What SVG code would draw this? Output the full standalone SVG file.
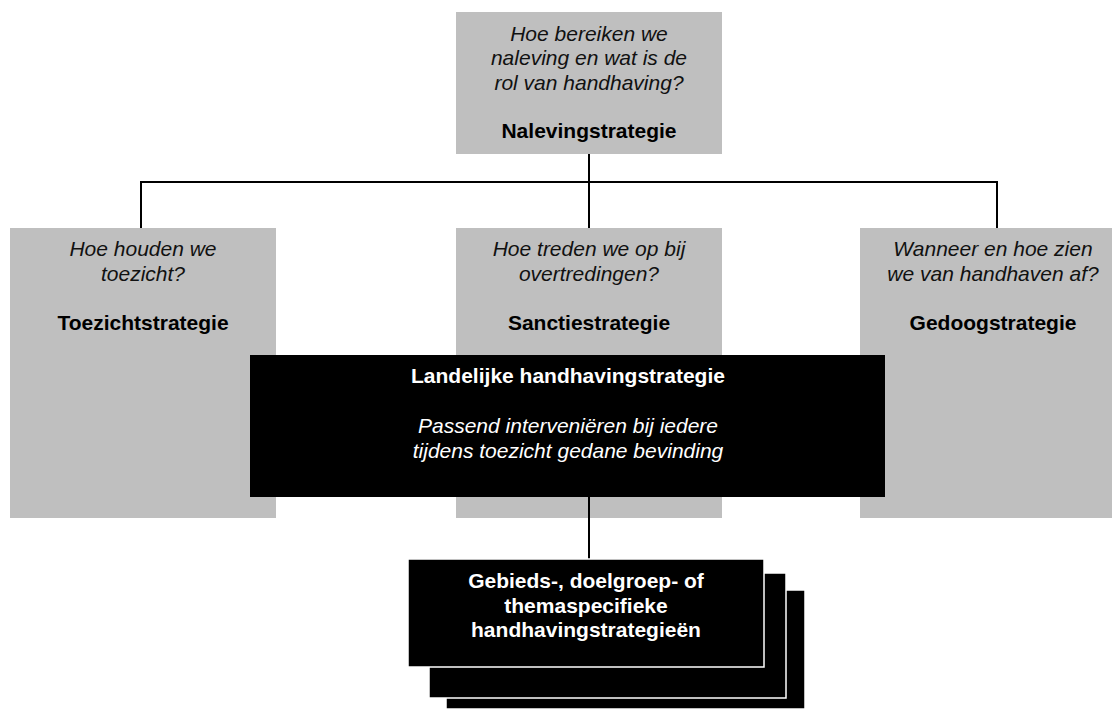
<svg xmlns="http://www.w3.org/2000/svg" width="1112" height="714" viewBox="0 0 1112 714">
<style>
.g{fill:#bfbfbf}
.b{fill:#000}
.s{fill:#000;stroke:#fff;stroke-width:1.5}
text{font-family:"Liberation Sans",Arial,Helvetica,sans-serif;font-size:21px;text-anchor:middle}
.q{font-style:italic;fill:#111}
.t{font-weight:bold;fill:#000}
.w{fill:#fff}
.conn line{stroke:#000;stroke-width:2}
</style>
<rect width="1112" height="714" fill="#fff"/>
<g id="naleving">
<rect class="g" x="456" y="12" width="266" height="142"/>
<text class="q" x="589" y="41">Hoe bereiken we</text>
<text class="q" x="589" y="65">naleving en wat is de</text>
<text class="q" x="589" y="89.5">rol van handhaving?</text>
<text class="t" x="589" y="138">Nalevingstrategie</text>
</g>
<g id="toezicht">
<rect class="g" x="10" y="228" width="266" height="290"/>
<text class="q" x="143" y="256">Hoe houden we</text>
<text class="q" x="143" y="280.5">toezicht?</text>
<text class="t" x="143" y="330">Toezichtstrategie</text>
</g>
<g id="sanctie">
<rect class="g" x="456" y="228" width="266" height="290"/>
<text class="q" x="589" y="256">Hoe treden we op bij</text>
<text class="q" x="589" y="280.5">overtredingen?</text>
<text class="t" x="589" y="330">Sanctiestrategie</text>
</g>
<g id="gedoog">
<rect class="g" x="860" y="228" width="266" height="290"/>
<text class="q" x="993" y="256">Wanneer en hoe zien</text>
<text class="q" x="993" y="280.5">we van handhaven af?</text>
<text class="t" x="993" y="330">Gedoogstrategie</text>
</g>
<g class="conn" id="connectors">
<line x1="589" y1="154" x2="589" y2="228"/>
<line x1="140" y1="182" x2="998" y2="182"/>
<line x1="141" y1="181" x2="141" y2="228"/>
<line x1="997" y1="181" x2="997" y2="228"/>
<line x1="589" y1="497" x2="589" y2="559"/>
</g>
<g id="landelijk">
<rect class="b" x="250" y="355" width="635" height="142"/>
<text class="t w" x="568" y="383">Landelijke handhavingstrategie</text>
<text class="q w" x="568" y="433">Passend interveniëren bij iedere</text>
<text class="q w" x="568" y="457.5">tijdens toezicht gedane bevinding</text>
</g>
<g id="specifiek">
<rect class="s" x="446" y="590" width="359" height="119"/>
<rect class="s" x="429" y="573" width="357" height="125"/>
<rect class="s" x="408" y="559" width="356" height="108"/>
<text class="t w" x="586" y="588">Gebieds-, doelgroep- of</text>
<text class="t w" x="586" y="612.5">themaspecifieke</text>
<text class="t w" x="586" y="637">handhavingstrategieën</text>
</g>
</svg>
